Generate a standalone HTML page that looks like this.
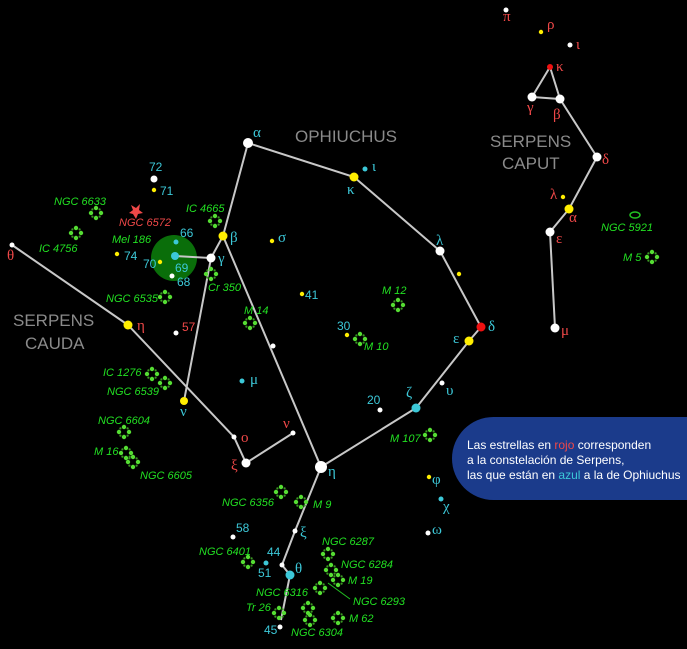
<!DOCTYPE html>
<html><head><meta charset="utf-8"><style>
html,body{margin:0;padding:0;background:#000;}
svg{display:block}
.g{fill:#22e022;font:italic 11px "Liberation Sans",sans-serif}
.c{fill:#3cc8d8;font:15px "Liberation Serif",serif}
.r{fill:#f04848;font:15px "Liberation Serif",serif}
.n{fill:#3cc8d8;font:12px "Liberation Sans",sans-serif}
.nr{fill:#f04848;font:12px "Liberation Sans",sans-serif}
.big{fill:#8a8a8a;font:17px "Liberation Sans",sans-serif}
</style></head><body>
<svg width="687" height="649" viewBox="0 0 687 649" xmlns="http://www.w3.org/2000/svg">
<defs>
<g id="cl">
<circle cx="0" cy="-5" r="2.2" fill="#55dd33"/><circle cx="0" cy="5" r="2.2" fill="#55dd33"/>
<circle cx="-5" cy="0" r="2.2" fill="#55dd33"/><circle cx="5" cy="0" r="2.2" fill="#55dd33"/>
<circle cx="-3.6" cy="-3.6" r="1.1" fill="#3a9922"/><circle cx="3.6" cy="-3.6" r="1.1" fill="#3a9922"/>
<circle cx="-3.6" cy="3.6" r="1.1" fill="#3a9922"/><circle cx="3.6" cy="3.6" r="1.1" fill="#3a9922"/>
</g>
</defs>
<rect width="687" height="649" fill="#000"/>
<circle cx="174" cy="258" r="23" fill="#0a6e0a"/>
<g stroke="#c8c8c8" stroke-width="2" fill="none">
<polyline points="223,236 248,143 354,177 440,251 481,327 469,341 416,408 321,467 223,236"/>
<line x1="223" y1="236" x2="211" y2="258"/>
<polyline points="175,256 211,258 184,401"/>
<polyline points="321,467 295,531 282,565 290,575 281,620"/>
<polyline points="12,245 128,325 234,437 246,463 293,433"/>
<polyline points="550,67 532,97 560,99 550,67"/>
<polyline points="560,99 597,157 569,209 550,232 555,328"/>
<line x1="328" y1="583" x2="350" y2="599" stroke="#22c022" stroke-width="1"/>
</g>
<use href="#cl" x="96" y="213"/><use href="#cl" x="76" y="233"/><use href="#cl" x="215" y="221"/>
<use href="#cl" x="211" y="274"/><use href="#cl" x="165" y="297"/><use href="#cl" x="250" y="323"/>
<use href="#cl" x="398" y="305"/><use href="#cl" x="360" y="339"/><use href="#cl" x="152" y="374"/>
<use href="#cl" x="165" y="383"/><use href="#cl" x="124" y="432"/><use href="#cl" x="126" y="453"/>
<use href="#cl" x="133" y="462"/><use href="#cl" x="430" y="435"/><use href="#cl" x="281" y="492"/>
<use href="#cl" x="301" y="502"/><use href="#cl" x="248" y="562"/><use href="#cl" x="328" y="554"/>
<use href="#cl" x="331" y="570"/><use href="#cl" x="338" y="580"/><use href="#cl" x="320" y="588"/>
<use href="#cl" x="279" y="613"/><use href="#cl" x="308" y="608"/><use href="#cl" x="310" y="620"/>
<use href="#cl" x="338" y="618"/><use href="#cl" x="652" y="257"/>
<ellipse cx="635" cy="215" rx="5" ry="3" fill="none" stroke="#22c022" stroke-width="1.5"/>
<path d="M131,205 L136,208 L140,204 L139,210 L143,213 L138,214 L136,219 L133,214 L129,213 L133,210Z" fill="#f04848"/>
<g fill="#fff">
<circle cx="248" cy="143" r="5"/><circle cx="440" cy="251" r="4.5"/><circle cx="442" cy="383" r="2.5"/>
<circle cx="380" cy="410" r="2.5"/><circle cx="321" cy="467" r="6"/><circle cx="211" cy="258" r="4.5"/>
<circle cx="172" cy="276" r="2.5"/><circle cx="154" cy="179" r="3.5"/><circle cx="176" cy="333" r="2.5"/>
<circle cx="273" cy="346" r="2.5"/><circle cx="295" cy="531" r="2.5"/><circle cx="233" cy="537" r="2.5"/>
<circle cx="282" cy="565" r="2.5"/><circle cx="280" cy="627" r="2.5"/><circle cx="428" cy="533" r="2.5"/>
<circle cx="12" cy="245" r="2.5"/><circle cx="234" cy="437" r="2.5"/><circle cx="246" cy="463" r="4.5"/>
<circle cx="293" cy="433" r="2.5"/><circle cx="506" cy="10" r="2.5"/><circle cx="570" cy="45" r="2.5"/>
<circle cx="532" cy="97" r="4.5"/><circle cx="560" cy="99" r="4.5"/><circle cx="597" cy="157" r="4.5"/>
<circle cx="550" cy="232" r="4.5"/><circle cx="555" cy="328" r="4.5"/>
</g>
<g fill="#ffee00">
<circle cx="354" cy="177" r="4.5"/><circle cx="459" cy="274" r="2.2"/><circle cx="469" cy="341" r="4.5"/>
<circle cx="302" cy="294" r="2.2"/><circle cx="347" cy="335" r="2.2"/><circle cx="223" cy="236" r="4.5"/>
<circle cx="272" cy="241" r="2.2"/><circle cx="160" cy="262" r="2.2"/><circle cx="117" cy="254" r="2.2"/>
<circle cx="154" cy="190" r="2.2"/><circle cx="184" cy="401" r="4"/><circle cx="429" cy="477" r="2.2"/>
<circle cx="128" cy="325" r="4.5"/><circle cx="541" cy="32" r="2.2"/><circle cx="563" cy="197" r="2.2"/>
<circle cx="569" cy="209" r="4.5"/>
</g>
<g fill="#3cc8d8">
<circle cx="365" cy="169" r="2.5"/><circle cx="416" cy="408" r="4.5"/><circle cx="242" cy="381" r="2.5"/>
<circle cx="176" cy="242" r="2.5"/><circle cx="175" cy="256" r="4"/><circle cx="266" cy="563" r="2.5"/>
<circle cx="290" cy="575" r="4.5"/><circle cx="441" cy="499" r="2.5"/>
</g>
<circle cx="481" cy="327" r="4.5" fill="#ee1111"/><circle cx="550" cy="67" r="3" fill="#ee1111"/>
<text class="c" x="253" y="137">α</text><text class="c" x="347" y="194">κ</text><text class="c" x="372" y="171">ι</text>
<text class="c" x="436" y="258" dy="-13">λ</text><text class="c" x="488" y="331">δ</text><text class="c" x="453" y="343">ε</text>
<text class="c" x="446" y="395">υ</text><text class="c" x="406" y="397">ζ</text><text class="c" x="328" y="476">η</text>
<text class="c" x="250" y="384">μ</text><text class="c" x="230" y="242">β</text><text class="c" x="278" y="242">σ</text>
<text class="c" x="218" y="263">γ</text><text class="c" x="180" y="416">ν</text><text class="c" x="300" y="537">ξ</text>
<text class="c" x="295" y="573">θ</text><text class="c" x="432" y="484">φ</text><text class="c" x="443" y="511">χ</text>
<text class="c" x="432" y="534">ω</text>
<text class="r" x="7" y="260">θ</text><text class="r" x="137" y="330">η</text><text class="r" x="241" y="442">ο</text>
<text class="r" x="231" y="470">ξ</text><text class="r" x="283" y="428">ν</text>
<text class="r" x="503" y="21">π</text><text class="r" x="547" y="29">ρ</text><text class="r" x="576" y="49">ι</text>
<text class="r" x="556" y="71">κ</text><text class="r" x="527" y="112">γ</text><text class="r" x="553" y="119">β</text>
<text class="r" x="602" y="164">δ</text><text class="r" x="550" y="199">λ</text><text class="r" x="569" y="222">α</text>
<text class="r" x="556" y="243">ε</text><text class="r" x="561" y="335">μ</text>
<text class="n" x="149" y="171">72</text><text class="n" x="160" y="195">71</text><text class="n" x="180" y="237">66</text>
<text class="n" x="175" y="272">69</text><text class="n" x="143" y="268">70</text><text class="n" x="177" y="286">68</text>
<text class="n" x="124" y="260">74</text><text class="n" x="305" y="299">41</text><text class="n" x="337" y="330">30</text>
<text class="n" x="367" y="404">20</text><text class="n" x="236" y="532">58</text><text class="n" x="267" y="556">44</text>
<text class="n" x="258" y="577">51</text><text class="n" x="264" y="634">45</text><text class="nr" x="182" y="331">57</text>
<text class="g" x="54" y="205">NGC 6633</text><text class="g" x="39" y="252">IC 4756</text>
<text class="g" x="186" y="212">IC 4665</text><text class="g" x="119" y="226" style="fill:#f04848">NGC 6572</text>
<text class="g" x="112" y="243">Mel 186</text><text class="g" x="208" y="291">Cr 350</text>
<text class="g" x="106" y="302">NGC 6535</text><text class="g" x="244" y="314">M 14</text>
<text class="g" x="382" y="294">M 12</text><text class="g" x="364" y="350">M 10</text>
<text class="g" x="103" y="376">IC 1276</text><text class="g" x="107" y="395">NGC 6539</text>
<text class="g" x="98" y="424">NGC 6604</text><text class="g" x="94" y="455">M 16</text>
<text class="g" x="140" y="479">NGC 6605</text><text class="g" x="390" y="442">M 107</text>
<text class="g" x="222" y="506">NGC 6356</text><text class="g" x="313" y="508">M 9</text>
<text class="g" x="199" y="555">NGC 6401</text><text class="g" x="322" y="545">NGC 6287</text>
<text class="g" x="341" y="568">NGC 6284</text><text class="g" x="348" y="584">M 19</text>
<text class="g" x="353" y="605">NGC 6293</text><text class="g" x="256" y="596">NGC 6316</text>
<text class="g" x="246" y="611">Tr 26</text><text class="g" x="291" y="636">NGC 6304</text>
<text class="g" x="349" y="622">M 62</text><text class="g" x="601" y="231">NGC 5921</text>
<text class="g" x="623" y="261">M 5</text>
<text class="big" x="295" y="142">OPHIUCHUS</text>
<text class="big" x="490" y="147">SERPENS</text><text class="big" x="502" y="169">CAPUT</text>
<text class="big" x="13" y="326">SERPENS</text><text class="big" x="25" y="349">CAUDA</text>
<rect x="452" y="417" width="280" height="83" rx="41.5" fill="#1b3b8b"/>
<text x="467" y="449" style="fill:#fff;font:12px 'Liberation Sans',sans-serif">Las estrellas en <tspan fill="#f04848">rojo</tspan> corresponden</text>
<text x="467" y="464" style="fill:#fff;font:12px 'Liberation Sans',sans-serif">a la constelación de Serpens,</text>
<text x="467" y="479" style="fill:#fff;font:12px 'Liberation Sans',sans-serif">las que están en <tspan fill="#3cc8d8">azul</tspan> a la de Ophiuchus</text>
</svg>
</body></html>
